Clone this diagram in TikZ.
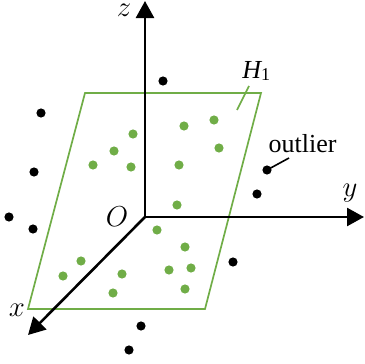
\documentclass[tikz,border=0pt]{standalone}
\usepackage{fontspec}
\newfontfamily\timesf{Liberation Serif}
\usetikzlibrary{arrows.meta}
\definecolor{pgreen}{RGB}{112,173,71}
\begin{document}
\begin{tikzpicture}[x=0.5pt,y=-0.5pt,
  axis/.style={line width=1.3pt,-{Triangle[length=8.5pt,width=9pt]}},
  plane/.style={pgreen,line width=0.85pt},
  gdot/.style={circle,fill=pgreen,inner sep=0pt,minimum size=4.6pt},
  bdot/.style={circle,fill=black,inner sep=0pt,minimum size=4.6pt},
  axlab/.style={inner sep=0pt,anchor=base,font=\fontsize{15.5}{18}\selectfont},
  txtlab/.style={inner sep=0pt,anchor=base,font=\timesf\fontsize{13}{15}\selectfont}]
\useasboundingbox (0,0) rectangle (365,364);
% plane H1
\coordinate (p1) at (85,93);
\coordinate (p2) at (261,93);
\coordinate (p3) at (205,309);
\coordinate (p4) at (28,309);
\draw[plane] (p1) -- (p2) -- (p3) -- (p4) -- cycle;
% green dots
\foreach \px/\py [count=\i] in {184/126,214/120,133/134,114/151,219/148,93/165,131/167,179/165,
  177/205,157/230,185/247,81/261,63/276,122/274,169/270,191/268,113/293,185/289}
  \node[gdot] (g\i) at (\px,\py) {};
% black dots
\foreach \px/\py [count=\i] in {163/81,41/113,34/172,9/217,33/229,257/194,233/262,141/326,129/350}
  \node[bdot] (b\i) at (\px,\py) {};
\node[bdot] (o1) at (267,170) {};
% axes
\coordinate (O) at (145,217);
\coordinate (zt) at (145,1);
\coordinate (yt) at (364,217);
\coordinate (xt) at (28,335);
\draw[axis] (O) -- (zt);
\draw[axis] (O) -- (yt);
\draw[axis] (O) -- (xt);
% labels
\node[axlab,font=\fontsize{13.5}{16}\selectfont] (lz) at (124,17) {$z$};
\node[axlab] (ly) at (350,196) {$y$};
\node[axlab] (lx) at (17,316) {$x$};
\node[axlab] (lO) at (117,226) {$O$};
\node[txtlab,anchor=base west] (lH) at (242,78) {\itshape H\raisebox{-1.2pt}{\upshape\fontsize{9}{10}\selectfont 1}};
\node[txtlab] (lout) at (302.5,152) {outlier};
% leaders
\coordinate (hl1) at (249,86);
\coordinate (hl2) at (237,110);
\draw[plane] (hl1) -- (hl2);
\coordinate (ol) at (289,158);
\draw[line width=0.8pt] (o1.center) -- (ol);
\end{tikzpicture}
\end{document}
